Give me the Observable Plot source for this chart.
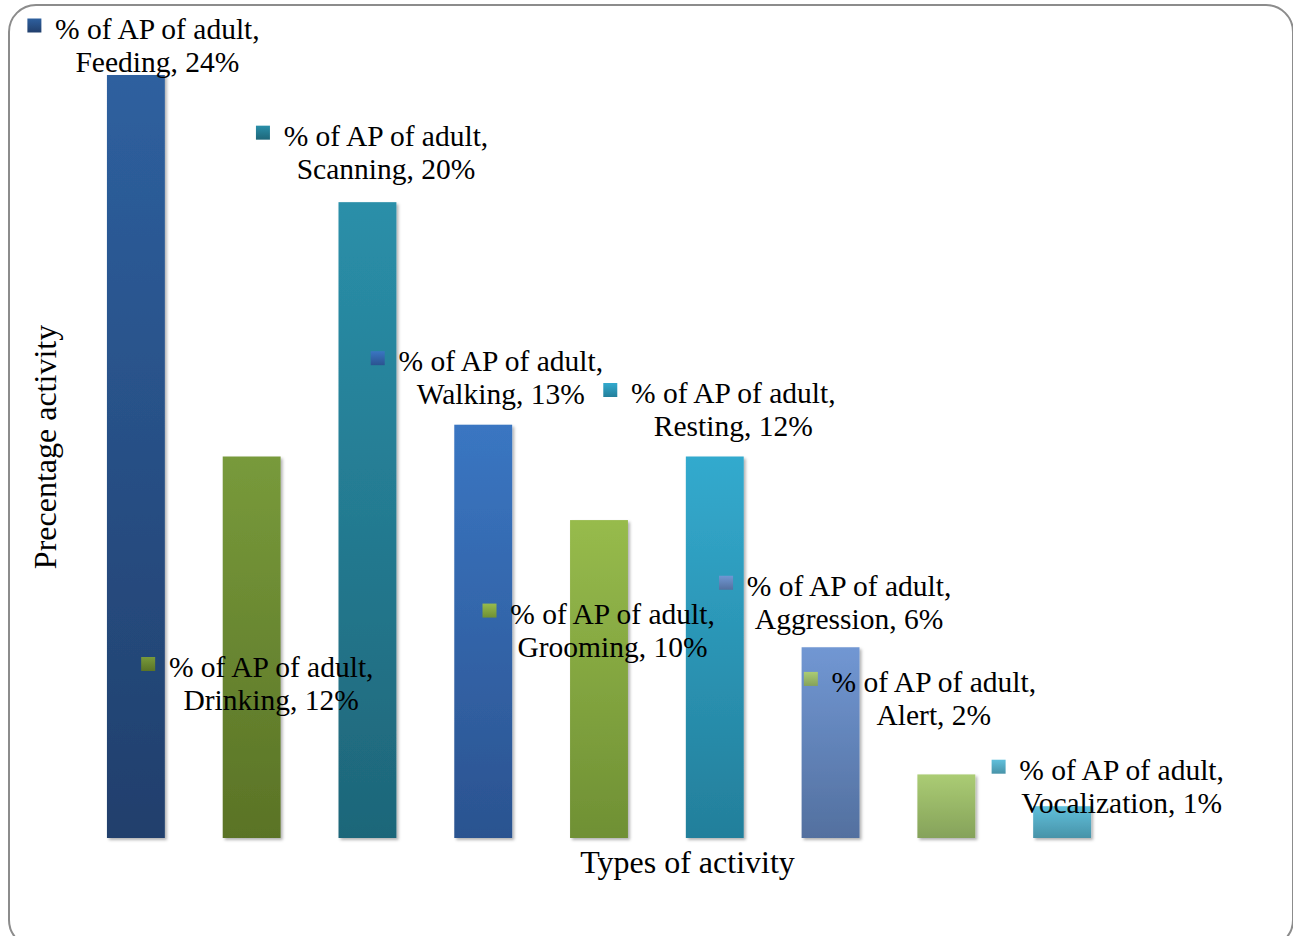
<!DOCTYPE html>
<html>
<head>
<meta charset="utf-8">
<script src="https://cdn.jsdelivr.net/npm/d3@7"></script>
<script src="https://cdn.jsdelivr.net/npm/@observablehq/plot@0.6"></script>
<style>
  html, body { margin: 0; padding: 0; background: #fff; overflow: hidden; }
  #wrap { position: relative; width: 1293px; height: 936px; overflow: hidden; }
  #chart svg { display: block; }
  #border {
    position: absolute; left: 8px; top: 4px; width: 1282px; height: 940px;
    border: 2px solid #8c8c8c; border-radius: 28px; pointer-events: none;
  }
</style>
</head>
<body>
<div id="wrap">
  <div id="chart"></div>
  <div id="border"></div>
</div>
<script>
// Share of the activity budget of adults, by type of activity
const seriesName = "% of AP of adult";
const activities = ["Feeding", "Drinking", "Scanning", "Walking", "Grooming", "Resting", "Aggression", "Alert", "Vocalization"];
const percentages = [24, 12, 20, 13, 10, 12, 6, 2, 1];

// Bar gradients: lighter at the top, darker at the base
const gradientTop    = ["#2e609f", "#789a3b", "#2a8fa9", "#3a76c2", "#97bb4c", "#33aace", "#7197d3", "#abcc74", "#60c0dc"];
const gradientBottom = ["#213f6c", "#5a7326", "#1e6679", "#2b5390", "#6f9034", "#237f9b", "#53709f", "#85a25a", "#4893a8"];

// Where each data label sits, relative to the top centre of its bar (pixels)
const labelOffsets = [
  [21, -31], [19, 226], [18, -51], [17, -48], [13, 109],
  [18, -48], [18, -46], [-13, -77], [59, -21]
];

const rows = activities.map((activity, i) => ({ i, activity, value: percentages[i] }));

const fontSize = 29.5;
const lineHeight = 33 / fontSize;
const squareShift = -123; // legend key sits left of the first label line

const labelMarks = rows.flatMap((d, i) => {
  const [dx, dy] = labelOffsets[i];
  return [
    Plot.text([d], {
      x: "activity", y: "value",
      text: r => `${seriesName},\n${r.activity}, ${r.value}%`,
      dx, dy, lineAnchor: "middle", textAnchor: "middle",
      lineHeight, fontSize, fill: "#000"
    }),
    Plot.dot([d], {
      x: "activity", y: "value",
      dx: dx + squareShift, dy: dy - 19,
      symbol: "square", r: 7.9, fill: `url(#grad${i})`, stroke: "none"
    })
  ];
});

const chart = Plot.plot({
  width: 1293,
  height: 936,
  marginLeft: 78,
  marginRight: 173,
  marginTop: 75,
  marginBottom: 98,
  style: { fontFamily: "'Liberation Serif', 'Times New Roman', serif", background: "transparent", color: "#000" },
  x: { type: "band", domain: activities, paddingInner: 0.5, paddingOuter: 0.25, align: 0.5, round: false, axis: null },
  y: { domain: [0, 24], axis: null },
  color: { type: "identity" },
  marks: [
    Plot.barY(rows, { x: "activity", y: "value", fill: d => `url(#grad${d.i})` }),
    ...labelMarks,
    Plot.text(["Precentage activity"], {
      frameAnchor: "left", rotate: -90, dx: -33, dy: -10,
      fontSize: 32, fill: "#000", textAnchor: "middle", lineAnchor: "middle"
    }),
    Plot.text(["Types of activity"], {
      frameAnchor: "bottom", dx: 88, dy: 24,
      fontSize: 32, fill: "#000", textAnchor: "middle", lineAnchor: "middle"
    })
  ]
});

// Gradient and soft shadow definitions used by the bars and legend keys
const svg = d3.select(chart);
const defs = svg.insert("defs", ":first-child");
activities.forEach((_, i) => {
  const g = defs.append("linearGradient")
    .attr("id", `grad${i}`).attr("x1", 0).attr("y1", 0).attr("x2", 0).attr("y2", 1);
  g.append("stop").attr("offset", "0%").attr("stop-color", gradientTop[i]);
  g.append("stop").attr("offset", "100%").attr("stop-color", gradientBottom[i]);
});
const shadow = defs.append("filter").attr("id", "barShadow")
  .attr("x", "-20%").attr("y", "-5%").attr("width", "140%").attr("height", "110%");
shadow.append("feDropShadow")
  .attr("dx", 2).attr("dy", 2).attr("stdDeviation", 1.6)
  .attr("flood-color", "#000").attr("flood-opacity", 0.3);
svg.selectAll('g[aria-label="bar"]').attr("filter", "url(#barShadow)");

document.getElementById("chart").appendChild(chart);
</script>
</body>
</html>
